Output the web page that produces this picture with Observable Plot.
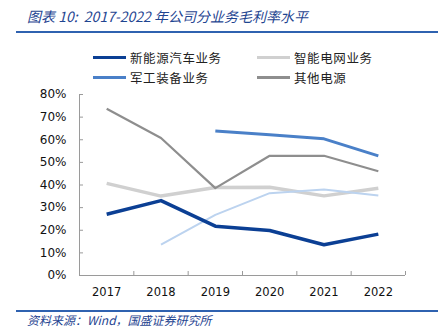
<!DOCTYPE html>
<html><head><meta charset="utf-8">
<script src="https://cdn.jsdelivr.net/npm/d3@7"></script>
<script src="https://cdn.jsdelivr.net/npm/@observablehq/plot@0.6"></script>
<style>
body{margin:0;width:445px;height:335px;background:#fff;position:relative;overflow:hidden;font-family:"Noto Sans CJK SC","Noto Sans",sans-serif;}
.title{position:absolute;left:27px;top:6px;font-size:14px;font-style:italic;color:#1f4591;white-space:nowrap;}
.rule{position:absolute;left:16px;width:422px;height:2px;background:#2f62b0;}
.src{position:absolute;left:27px;top:311px;font-size:12px;font-style:italic;color:#1f4591;white-space:nowrap;}
.leg{position:absolute;font-size:12.5px;color:#222;letter-spacing:0.6px;white-space:nowrap;display:flex;align-items:center;}
.sw{display:inline-block;width:33px;height:3px;margin-right:4px;}
#chart{position:absolute;left:0;top:85px;}
</style></head><body>
<div class="title">图表 10:&nbsp;&nbsp;2017-2022 年公司分业务毛利率水平</div>
<div class="rule" style="top:31px"></div>
<div id="legend"></div>
<div id="chart"></div>
<div class="rule" style="top:310px"></div>
<div class="src">资料来源：Wind，国盛证券研究所</div>
<script>
const years = [2017, 2018, 2019, 2020, 2021, 2022];
const seriesNames = ["新能源汽车业务", "智能电网业务", "军工装备业务", "其他电源", ""];
const newEnergy = [27.1, 33.1, 21.8, 19.9, 13.6, 18.3];
const smartGrid = [40.7, 35.1, 38.9, 39.0, 35.2, 38.6];
const military = [null, null, 63.9, 62.2, 60.4, 52.9];
const otherPower = [73.7, 60.8, 38.6, 52.9, 52.9, 46.1];
const unlabeled = [null, 13.6, 26.8, 36.4, 38.0, 35.4];
const yTicks = [0, 10, 20, 30, 40, 50, 60, 70, 80];
const colors = ["#0b3f94", "#d0d0d0", "#4a80c8", "#8e8e8e", "#bcd3ef"];
const widths = [3.5, 3.5, 3, 2.2, 2];

const allSeries = [newEnergy, smartGrid, military, otherPower, unlabeled];
const rows = [];
allSeries.forEach((vals, i) => years.forEach((y, j) => { if (vals[j] != null) rows.push({s: i, year: y, v: vals[j]}); }));

// legend
const legendPos = [[93, 48], [257, 48], [93, 68], [257, 68]];
const leg = document.getElementById("legend");
for (let i = 0; i < 4; i++) {
  const d = document.createElement("div");
  d.className = "leg";
  d.style.left = legendPos[i][0] + "px";
  d.style.top = legendPos[i][1] + "px";
  d.innerHTML = `<span class="sw" style="background:${colors[i]};height:${widths[i]}px"></span>${seriesNames[i]}`;
  leg.appendChild(d);
}

const bounds = [2016.5, 2017.5, 2018.5, 2019.5, 2020.5, 2021.5, 2022.5];
const drawOrder = [1, 4, 3, 2, 0];
const marks = [
  Plot.ruleY([0], {stroke: "#9a9a9a"}),
  Plot.ruleX([2016.5], {y1: 0, y2: 80, stroke: "#9a9a9a"}),
  Plot.axisY({ticks: yTicks, tickSize: -4, tickPadding: 17, stroke: "#9a9a9a", tickFormat: d => d + "%", fontSize: 12, fill: "#111", label: null}),
  Plot.axisX({ticks: bounds, tickSize: -4, tickFormat: () => "", stroke: "#9a9a9a", label: null}),
  Plot.axisX({ticks: years, tickSize: 0, tickPadding: 12, tickFormat: d => String(d), fontSize: 11.5, fill: "#111", label: null}),
  ...drawOrder.map(i => Plot.line(rows.filter(r => r.s === i), {x: "year", y: "v", stroke: colors[i], strokeWidth: widths[i], strokeLinecap: "butt", strokeLinejoin: "round"}))
];

const chart = Plot.plot({
  width: 445, height: 220,
  marginLeft: 79, marginRight: 40, marginTop: 9, marginBottom: 30,
  style: {fontFamily: "'DejaVu Sans', Verdana, sans-serif", background: "transparent"},
  x: {domain: [2016.5, 2022.5], axis: null},
  y: {domain: [0, 80], axis: null},
  marks
});
document.getElementById("chart").appendChild(chart);
</script>
</body></html>
